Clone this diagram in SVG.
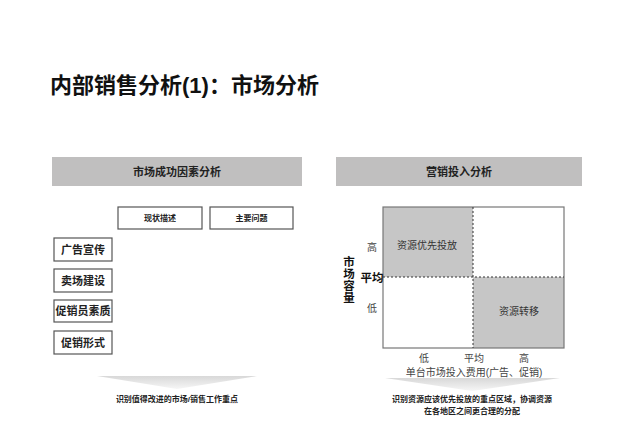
<svg xmlns="http://www.w3.org/2000/svg" width="640" height="443" viewBox="0 0 640 443">
<defs>
<linearGradient id="arrowGrad" x1="0" y1="0" x2="0" y2="1">
<stop offset="0" stop-color="#d8d8d8"/>
<stop offset="1" stop-color="#f6f6f6"/>
</linearGradient>
<style>
text{font-family:"Liberation Sans","Noto Sans CJK SC",sans-serif;fill:#222}
.title{font-size:22px;font-weight:bold;fill:#111}
.hdr{fill:#c0bfbf}
.hdrt{font-size:11px;font-weight:bold;text-anchor:middle}
.box{fill:#fff;stroke:#555;stroke-width:1.2}
.boxt{font-size:11px;font-weight:bold;text-anchor:middle}
.boxs{font-size:8px;font-weight:bold;text-anchor:middle}
.shade{fill:#c6c6c6}
.axis{font-size:10px;fill:#444;text-anchor:middle}
.axb{font-size:11.5px;font-weight:bold;text-anchor:middle;fill:#111}
.qt{font-size:10px;fill:#333;text-anchor:middle}
.note{font-size:8px;font-weight:bold;text-anchor:middle}
.arrow{fill:url(#arrowGrad)}
</style>
</defs>
<rect width="640" height="443" fill="#fff"/>
<text class="title" x="50" y="93">内部销售分析(1)：市场分析</text>

<g id="left-header">
<rect class="hdr" x="52" y="157" width="250" height="29"/>
<text class="hdrt" x="177" y="176">市场成功因素分析</text>
</g>
<g id="right-header">
<rect class="hdr" x="336" y="157" width="246" height="29"/>
<text class="hdrt" x="459" y="176">营销投入分析</text>
</g>

<g id="node-xianzhuang">
<rect class="box" x="118" y="207" width="84" height="22"/>
<text class="boxs" x="160" y="221">现状描述</text>
</g>
<g id="node-zhuyao">
<rect class="box" x="210" y="207" width="83" height="22"/>
<text class="boxs" x="251.5" y="221">主要问题</text>
</g>
<g id="node-guanggao">
<rect class="box" x="54" y="238" width="58" height="23"/>
<text class="boxt" x="83" y="253.5">广告宣传</text>
</g>
<g id="node-maichang">
<rect class="box" x="54" y="269" width="58" height="23"/>
<text class="boxt" x="83" y="284.5">卖场建设</text>
</g>
<g id="node-cuxiaoyuan">
<rect class="box" x="54" y="300" width="58" height="22"/>
<text class="boxt" x="83" y="315">促销员素质</text>
</g>
<g id="node-cuxiaoxingshi">
<rect class="box" x="54" y="331" width="58" height="23"/>
<text class="boxt" x="83" y="346.5">促销形式</text>
</g>

<g id="matrix">
<rect class="shade" x="383" y="207" width="90" height="70"/>
<rect class="shade" x="473" y="277" width="91" height="71"/>
<rect x="383" y="207" width="181" height="141" fill="none" stroke="#777" stroke-width="1.2"/>
<line x1="473" y1="207" x2="473" y2="348" stroke="#333" stroke-width="1" stroke-dasharray="2,2"/>
<line x1="383" y1="277" x2="564" y2="277" stroke="#333" stroke-width="1" stroke-dasharray="2,2"/>
<text class="qt" x="427" y="249">资源优先投放</text>
<text class="qt" x="519" y="315">资源转移</text>
<text class="axis" x="372" y="251">高</text>
<text class="axb" x="372" y="282">平均</text>
<text class="axis" x="372" y="312">低</text>
<text class="axb" x="349" y="266">市</text>
<text class="axb" x="349" y="278">场</text>
<text class="axb" x="349" y="290">容</text>
<text class="axb" x="349" y="302">量</text>
<text class="axis" x="424" y="362">低</text>
<text class="axis" x="474" y="362">平均</text>
<text class="axis" x="524" y="362">高</text>
<text class="axis" x="474" y="376">单台市场投入费用(广告、促销)</text>
</g>

<g id="left-result">
<polygon class="arrow" points="97,376 257,376 177,389"/>
<text class="note" x="177" y="402">识别值得改进的市场/销售工作重点</text>
</g>
<g id="right-result">
<polygon class="arrow" points="385,378 560,378 472,391"/>
<text class="note" x="472" y="402">识别资源应该优先投放的重点区域，协调资源</text>
<text class="note" x="472" y="414">在各地区之间更合理的分配</text>
</g>
</svg>
